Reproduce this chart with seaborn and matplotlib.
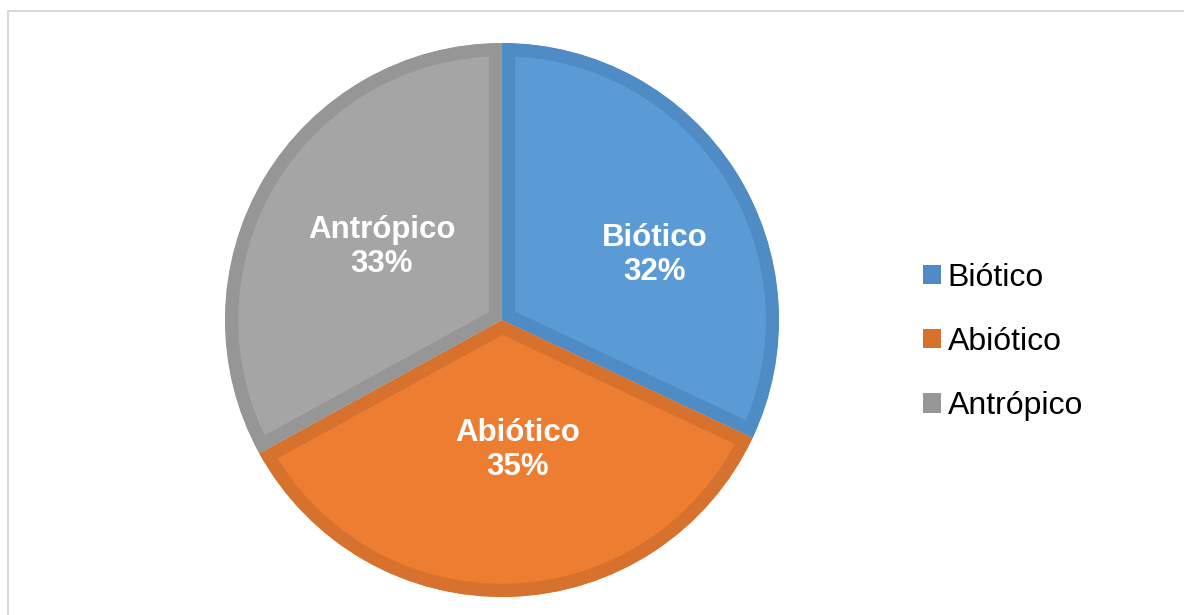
import matplotlib
matplotlib.use("Agg")
import matplotlib.pyplot as plt
from matplotlib.patches import Patch, Rectangle
import seaborn as sns

categories = ["Biótico", "Abiótico", "Antrópico"]
shares = [32, 35, 33]
fill_colors = ["#5B9BD5", "#ED7D31", "#A5A5A5"]
edge_colors = ["#4F8CC6", "#D6722E", "#969696"]

sns.set_theme(style="white")
plt.rcParams["font.family"] = ["Liberation Sans", "DejaVu Sans"]

W, H = 1184, 615
fig = plt.figure(figsize=(W / 100, H / 100), dpi=100)

# light chart-area frame
fig.patches.append(Rectangle((8 / W, -0.05), 1.1, (H - 11) / H + 0.05,
                             transform=fig.transFigure, fill=False,
                             edgecolor="#D9D9D9", linewidth=1.5))

cx, cy, r = 502, 320, 277
ax = fig.add_axes([(cx - r) / W, (H - cy - r) / H, 2 * r / W, 2 * r / H])

wedges, _ = ax.pie(shares, colors=fill_colors, startangle=90, counterclock=False,
                   radius=1.0, wedgeprops=dict(linewidth=19))
# darker inner border: stroke each wedge, keep only the half inside it
for w, ec in zip(wedges, edge_colors):
    w.set_edgecolor(ec)
    w.set_joinstyle("miter")
    w.set_clip_on(True)
    w.set_clip_path(w)

ax.set_xlim(-1, 1)
ax.set_ylim(-1, 1)
ax.set_aspect("equal")
ax.axis("off")

# data labels inside each slice
label_pos = [(655, 255), (518, 450), (382, 247)]
for (px, py), name, val in zip(label_pos, categories, shares):
    x = (px - cx) / r
    y = (cy - py) / r
    ax.text(x, y, f"{name}\n{val}%", ha="center", va="center", color="white",
            fontsize=22.5, fontweight="bold", linespacing=1.14)

handles = [Patch(facecolor=c, edgecolor="none") for c in edge_colors]
leg = fig.legend(handles, categories, loc="center left",
                 bbox_to_anchor=(923 / W, 1 - 342 / H), frameon=False,
                 fontsize=23, handlelength=0.55, handleheight=0.55,
                 handletextpad=0.22, labelspacing=1.07, borderpad=0,
                 borderaxespad=0)
for t in leg.get_texts():
    t.set_color("black")

fig.savefig("out.png", dpi=100, facecolor="white")
